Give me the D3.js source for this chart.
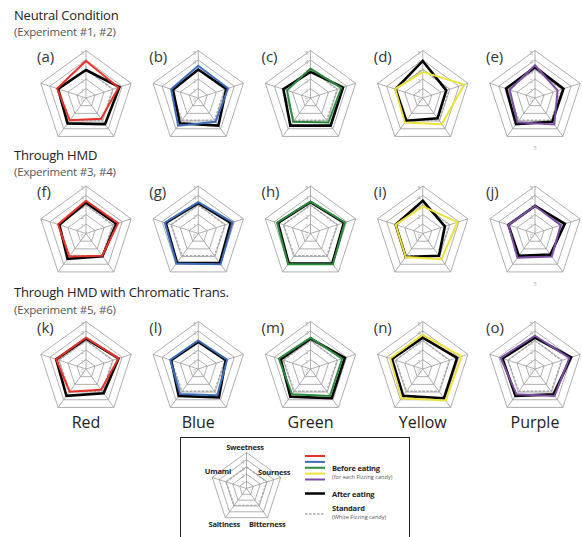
<!DOCTYPE html>
<html>
<head>
<meta charset="utf-8">
<script src="https://cdn.jsdelivr.net/npm/d3@7"></script>
<style>
  body { margin: 0; background: #fff; }
  svg { font-family: "Open Sans", "Noto Sans", sans-serif; }
</style>
</head>
<body>
<svg id="chart"></svg>
<script>
// Datos
const axes = ["Sweetness", "Sourness", "Bitterness", "Saltiness", "Umami"];
const candies = ["Red", "Blue", "Green", "Yellow", "Purple"];
const panelIds = ["a","b","c","d","e","f","g","h","i","j","k","l","m","n","o"];
const rowTitles = ["Neutral Condition", "Through HMD", "Through HMD with Chromatic Trans."];
const rowSubtitles = ["(Experiment #1, #2)", "(Experiment #3, #4)", "(Experiment #5, #6)"];
const ticks = [0, 1, 2, 3, 4, 5];

// valores por fila: antes de comer (color) / despues de comer (negro)
const beforeNeutral = [
  [3.9, 3.6, 2.7, 2.9, 3.2],
  [3.4, 3.3, 3.1, 3.6, 3.0],
  [3.1, 3.4, 3.2, 3.1, 2.6],
  [2.75, 4.6, 3.4, 3.2, 3.05],
  [3.45, 2.5, 3.45, 3.15, 2.8]
];
const afterNeutral = [
  [2.95, 3.7, 3.4, 3.3, 3.1],
  [3.0, 3.1, 3.6, 3.3, 2.8],
  [2.75, 3.6, 3.6, 3.6, 3.0],
  [3.9, 2.6, 2.65, 2.95, 3.0],
  [3.25, 3.15, 3.1, 3.4, 3.2]
];
const beforeHMD = [
  [3.45, 3.55, 2.9, 3.0, 3.1],
  [3.3, 3.8, 4.0, 3.9, 3.7],
  [3.35, 3.8, 4.0, 4.0, 3.7],
  [2.85, 3.85, 3.35, 3.05, 3.0],
  [2.9, 2.85, 3.0, 3.15, 2.95]
];
const afterHMD = [
  [3.25, 3.35, 2.95, 3.3, 2.95],
  [3.2, 3.6, 3.85, 3.8, 3.6],
  [3.3, 3.7, 3.9, 3.9, 3.6],
  [3.45, 2.45, 2.9, 3.05, 3.0],
  [2.9, 3.3, 2.75, 2.9, 2.95]
];
const beforeTrans = [
  [3.3, 3.6, 2.7, 2.95, 3.3],
  [3.0, 3.2, 3.4, 3.25, 3.1],
  [3.3, 3.5, 3.5, 3.3, 3.5],
  [3.6, 4.3, 4.1, 3.8, 3.6],
  [3.5, 3.8, 3.5, 3.3, 3.8]
];
const afterTrans = [
  [3.2, 3.6, 3.15, 3.5, 3.3],
  [2.85, 3.05, 3.7, 3.5, 3.0],
  [3.2, 3.8, 3.8, 3.6, 3.3],
  [3.3, 3.8, 3.8, 3.5, 3.4],
  [3.3, 4.0, 3.3, 3.5, 3.6]
];
const standard = [3.0, 2.95, 2.9, 2.9, 3.0];

const beforeRows = [beforeNeutral, beforeHMD, beforeTrans];
const afterRows = [afterNeutral, afterHMD, afterTrans];

// Estilos
const candyColors = ["#e8332b", "#3d6db8", "#2b8a3b", "#ece23a", "#7b4ea1"];
const gridColor = "#9a9a9a";
const stdColor = "#a8a8a8";

// Configuracion
const width = 582;
const height = 537;
const R = 47.5;

const svg = d3.select("#chart")
    .attr("width", width)
    .attr("height", height);

const xCol = d3.scalePoint().domain(candies).range([86, 535]);
const yRow = d3.scalePoint().domain([0, 1, 2]).range([98, 369]);
const titleY = [20, 160, 297];
const subY = [36, 176, 314];

const angle = d3.scalePoint().domain(axes).range([0, 2 * Math.PI * 4 / 5]);

function radar(g, r, tickList) {
    const line = d3.lineRadial()
        .angle((d, i) => angle(axes[i]))
        .radius(d => r(d))
        .curve(d3.curveLinearClosed);

    // rejilla
    ticks.slice(1).forEach(t => {
        g.append("path")
            .attr("d", line(axes.map(() => t)))
            .attr("fill", "none")
            .attr("stroke", gridColor)
            .attr("stroke-width", 0.8);
    });
    axes.forEach(a => {
        const ang = angle(a);
        g.append("line")
            .attr("x1", 0).attr("y1", 0)
            .attr("x2", r(5) * Math.sin(ang))
            .attr("y2", -r(5) * Math.cos(ang))
            .attr("stroke", gridColor)
            .attr("stroke-width", 0.8);
    });
    g.selectAll(".tick")
        .data(tickList)
        .enter()
        .append("text")
        .attr("x", -2)
        .attr("y", d => -r(d) + 4)
        .attr("text-anchor", "end")
        .attr("font-size", 5.5)
        .attr("fill", "#aaa")
        .text(d => d);
    return line;
}

const r = d3.scaleLinear().domain([0, 5]).range([0, R]);

beforeRows.forEach((rowData, ri) => {
    svg.append("text")
        .attr("x", 14)
        .attr("y", titleY[ri])
        .attr("font-size", 13)
        .attr("letter-spacing", -0.2)
        .attr("fill", "#222")
        .text(rowTitles[ri]);
    svg.append("text")
        .attr("x", 14)
        .attr("y", subY[ri])
        .attr("font-size", 11.5)
        .attr("letter-spacing", -0.2)
        .attr("fill", "#555")
        .text(rowSubtitles[ri]);

    candies.forEach((c, ci) => {
        const cx = xCol(c);
        const cy = yRow(ri);
        const g = svg.append("g").attr("transform", `translate(${cx},${cy})`);
        const line = radar(g, r, ticks);

        g.append("path")
            .attr("d", line(standard))
            .attr("fill", "none")
            .attr("stroke", stdColor)
            .attr("stroke-width", 1.4)
            .attr("stroke-dasharray", "2.5,1.5");
        g.append("path")
            .attr("d", line(afterRows[ri][ci]))
            .attr("fill", "none")
            .attr("stroke", "#000")
            .attr("stroke-width", 2.6);
        g.append("path")
            .attr("d", line(rowData[ci]))
            .attr("fill", "none")
            .attr("stroke", candyColors[ci])
            .attr("stroke-width", 2);

        svg.append("text")
            .attr("x", cx - 49)
            .attr("y", cy - 36.5)
            .attr("font-size", 15)
            .attr("fill", "#333")
            .text(`(${panelIds[ri * 5 + ci]})`);

        if (ri === 2) {
            svg.append("text")
                .attr("x", cx)
                .attr("y", 428)
                .attr("text-anchor", "middle")
                .attr("font-size", 16)
                .attr("fill", "#222")
                .text(c);
        }
    });
});

// "5" sueltos bajo (e) y (j)
[0, 1].forEach(ri => {
    svg.append("text")
        .attr("x", xCol("Purple"))
        .attr("y", yRow(ri) + 52)
        .attr("text-anchor", "middle")
        .attr("font-size", 5.5)
        .attr("fill", "#aaa")
        .text("5");
});

// Leyenda
svg.append("rect")
    .attr("x", 180.5).attr("y", 437.5)
    .attr("width", 229).attr("height", 120)
    .attr("fill", "none")
    .attr("stroke", "#222")
    .attr("stroke-width", 1);

const rl = d3.scaleLinear().domain([0, 5]).range([0, 36]);
const lg = svg.append("g").attr("transform", "translate(246.5,488.5)");
const lline = radar(lg, rl, [1, 2, 3, 4]);
lg.append("path")
    .attr("d", lline(standard))
    .attr("fill", "none")
    .attr("stroke", stdColor)
    .attr("stroke-width", 1.4)
    .attr("stroke-dasharray", "2.5,1.5");

const axisLabelPos = [
    { x: 245, y: 450, anchor: "middle" },
    { x: 258, y: 475, anchor: "start" },
    { x: 249, y: 527, anchor: "start" },
    { x: 240, y: 527, anchor: "end" },
    { x: 231, y: 474, anchor: "end" }
];
axes.forEach((a, i) => {
    svg.append("text")
        .attr("x", axisLabelPos[i].x)
        .attr("y", axisLabelPos[i].y)
        .attr("text-anchor", axisLabelPos[i].anchor)
        .attr("font-size", 7.5)
        .attr("font-weight", "bold")
        .attr("letter-spacing", -0.2)
        .attr("fill", "#222")
        .text(a);
});

const legY = d3.scalePoint().domain(candies).range([456, 479.5]);
candies.forEach((c, i) => {
    svg.append("line")
        .attr("x1", 305).attr("x2", 325)
        .attr("y1", legY(c)).attr("y2", legY(c))
        .attr("stroke", candyColors[i])
        .attr("stroke-width", 2);
});
svg.append("line")
    .attr("x1", 305).attr("x2", 325)
    .attr("y1", 493.5).attr("y2", 493.5)
    .attr("stroke", "#000")
    .attr("stroke-width", 2.5);
svg.append("line")
    .attr("x1", 305).attr("x2", 325)
    .attr("y1", 514).attr("y2", 514)
    .attr("stroke", stdColor)
    .attr("stroke-width", 1.4)
    .attr("stroke-dasharray", "2.5,1.5");

const legText = [
    { t: "Before eating", y: 470.5, bold: true },
    { t: "(for each Fizzing candy)", y: 478.5, bold: false },
    { t: "After eating", y: 497, bold: true },
    { t: "Standard", y: 511, bold: true },
    { t: "(White Fizzing candy)", y: 519, bold: false }
];
legText.forEach(d => {
    svg.append("text")
        .attr("x", 332)
        .attr("y", d.y)
        .attr("font-size", d.bold ? 7.5 : 5.6)
        .attr("font-weight", d.bold ? "bold" : "normal")
        .attr("letter-spacing", d.bold ? -0.2 : 0)
        .attr("fill", d.bold ? "#222" : "#555")
        .text(d.t);
});
</script>
</body>
</html>
